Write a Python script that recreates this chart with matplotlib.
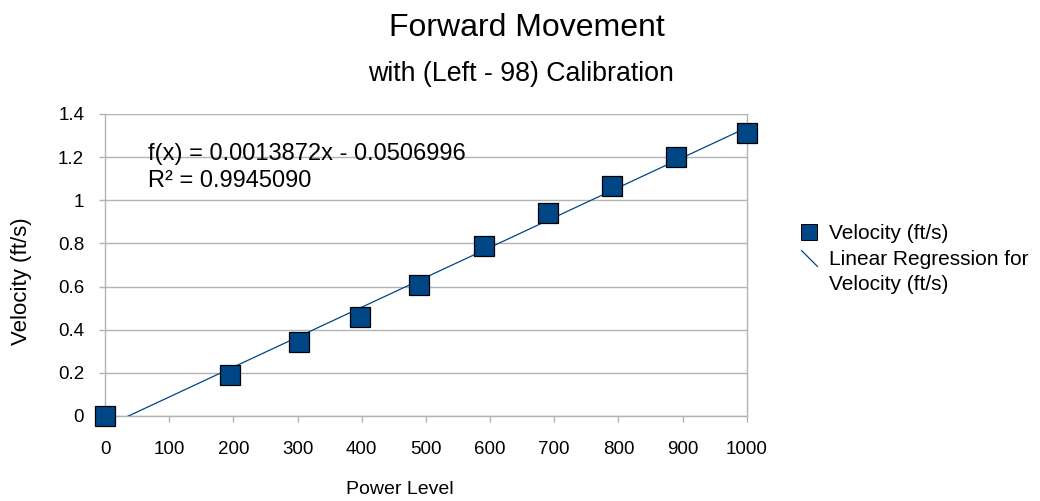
import numpy as np
import matplotlib
matplotlib.use("Agg")
import matplotlib.pyplot as plt
from matplotlib.lines import Line2D
from matplotlib.path import Path
from matplotlib.ticker import FuncFormatter

plt.rcParams['font.family'] = ['Liberation Sans', 'DejaVu Sans']

# data
power_level = [0, 195, 302, 398, 490, 590, 690, 790, 890, 1000]
velocity = [0.0, 0.19, 0.342, 0.457, 0.607, 0.79, 0.943, 1.066, 1.199, 1.31]
slope = 0.0013872
intercept = -0.0506996
r_squared = 0.9945090

x_ticks = [0, 100, 200, 300, 400, 500, 600, 700, 800, 900, 1000]
y_ticks = [0, 0.2, 0.4, 0.6, 0.8, 1.0, 1.2, 1.4]

dark_blue = '#004586'
grid_grey = '#b3b3b3'

fig = plt.figure(figsize=(10.4, 5.01), dpi=100)
ax = fig.add_axes([0.101, 0.1697, 0.617, 0.6028])

# regression line
x_fit = np.array([0, 1000])
ax.plot(x_fit, slope * x_fit + intercept, color=dark_blue, linewidth=0.9, zorder=3)

# data points
ax.plot(power_level, velocity, linestyle='', marker='s', markersize=14,
        markerfacecolor=dark_blue, markeredgecolor='black', markeredgewidth=0.9,
        zorder=5, clip_on=False)

ax.set_xlim(0, 1000)
ax.set_ylim(0, 1.4)
ax.set_xticks(x_ticks)
ax.set_yticks(y_ticks)
ax.yaxis.set_major_formatter(FuncFormatter(lambda v, p: f"{v:g}"))
ax.yaxis.grid(True, color=grid_grey, linewidth=1)
ax.set_axisbelow(True)

for side in ['left', 'right', 'bottom']:
    ax.spines[side].set_color(grid_grey)
    ax.spines[side].set_linewidth(1)
ax.spines['top'].set_visible(False)

ax.tick_params(axis='both', direction='out', length=4, width=1, color=grid_grey,
               labelsize=13.5, labelcolor='black')
ax.tick_params(axis='x', pad=14)
ax.tick_params(axis='y', pad=11)

# axis labels (placed where the reference has them)
fig.text(400 / 1040, 1 - 489 / 501, 'Power Level', fontsize=14, ha='center', va='center')
fig.text(22 / 1040, 1 - 281 / 501, 'Velocity (ft/s)', fontsize=16, rotation=90,
         ha='center', va='center')

# equation text
ax.text(0.067, 0.905, f"f(x) = {slope:.7f}x - {abs(intercept):.7f}\nR² = {r_squared:.7f}",
        transform=ax.transAxes, fontsize=17, va='top', ha='left', linespacing=1.3)

# titles
fig.text(0.507, 0.945, 'Forward Movement', fontsize=23, ha='center', va='center')
fig.text(0.501, 0.853, 'with (Left - 98) Calibration', fontsize=19.3, ha='center', va='center')

# legend
diag = Path([(-1, 1), (1, -1)], [Path.MOVETO, Path.LINETO])
h_points = Line2D([], [], linestyle='', marker='s', markersize=11,
                  markerfacecolor=dark_blue, markeredgecolor='black', markeredgewidth=0.7)
h_line = Line2D([], [], linestyle='', marker=diag, markersize=12,
                markerfacecolor='none', markeredgecolor=dark_blue, markeredgewidth=0.9)
h_blank = Line2D([], [], linestyle='', marker='')
fig.legend([h_points, h_line, h_blank],
           ['Velocity (ft/s)', 'Linear Regression for', 'Velocity (ft/s)'],
           loc='upper left', bbox_to_anchor=(0.75, 0.59), frameon=False,
           fontsize=15, handlelength=1.0, handletextpad=0.45, labelspacing=0.32)

fig.savefig('out.png', dpi=100)
